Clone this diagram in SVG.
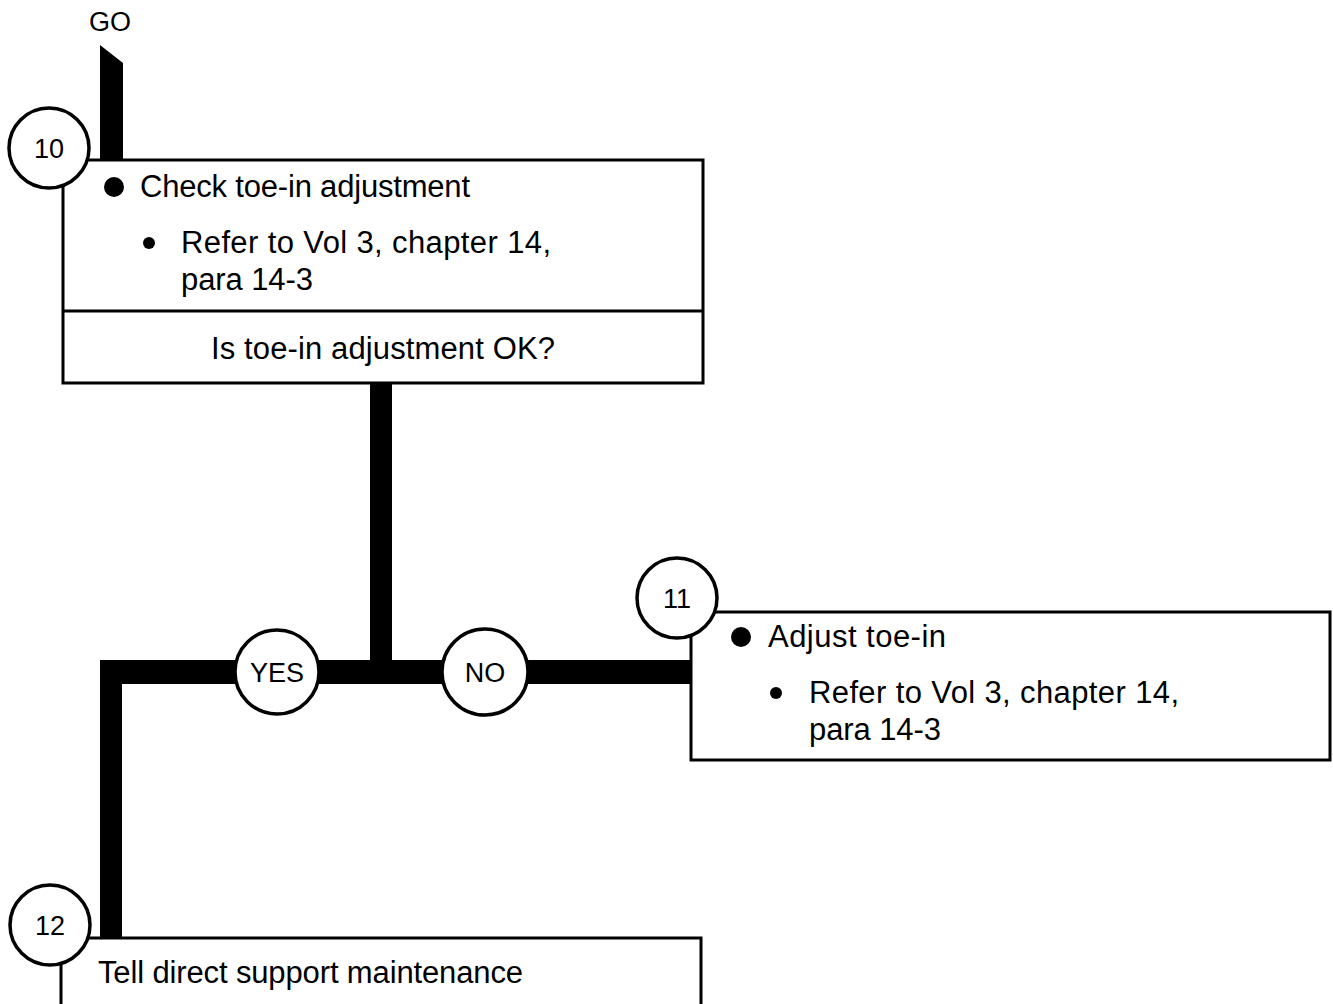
<svg xmlns="http://www.w3.org/2000/svg" width="1333" height="1004" viewBox="0 0 1333 1004">
<style>
.box{fill:#fff;stroke:#000;stroke-width:3}
.circ{fill:#fff;stroke:#000;stroke-width:3.5}
.t{font-family:"Liberation Sans",Arial,sans-serif;fill:#000}
.lg{font-size:31px}
.sm{font-size:27px}
.c{text-anchor:middle}
</style>
<rect width="1333" height="1004" fill="#fff"/>
<g id="connectors" fill="#000">
<polygon points="100,45 123,63 123,162 100,162"/>
<rect x="370" y="382" width="22" height="290"/>
<rect x="100" y="660" width="592" height="24"/>
<rect x="100" y="660" width="22" height="280"/>
</g>
<text class="t c" x="110" y="31" font-size="27">GO</text>
<g id="node10">
<rect class="box" x="63" y="160" width="640" height="223"/>
<line x1="63" y1="311" x2="703" y2="311" stroke="#000" stroke-width="3"/>
<circle class="circ" cx="49" cy="148" r="40"/>
<text class="t c sm" x="49" y="158">10</text>
<circle cx="114" cy="187" r="10"/>
<text class="t lg" x="140" y="197" textLength="330" lengthAdjust="spacing">Check toe-in adjustment</text>
<circle cx="149" cy="243" r="6"/>
<text class="t lg" x="181" y="253" textLength="370" lengthAdjust="spacing">Refer to Vol 3, chapter 14,</text>
<text class="t lg" x="181" y="290" textLength="132" lengthAdjust="spacing">para 14-3</text>
<text class="t lg c" x="383" y="359" textLength="344" lengthAdjust="spacing">Is toe-in adjustment OK?</text>
</g>
<g id="yes">
<circle class="circ" cx="277" cy="672" r="42"/>
<text class="t c sm" x="277" y="682">YES</text>
</g>
<g id="no">
<circle class="circ" cx="485" cy="672" r="43"/>
<text class="t c sm" x="485" y="682">NO</text>
</g>
<g id="node11">
<rect class="box" x="691" y="612" width="639" height="148"/>
<circle class="circ" cx="677" cy="598" r="40"/>
<text class="t c sm" x="677" y="608">11</text>
<circle cx="741" cy="637" r="10"/>
<text class="t lg" x="768" y="647" textLength="178" lengthAdjust="spacing">Adjust toe-in</text>
<circle cx="776" cy="693" r="6"/>
<text class="t lg" x="809" y="703" textLength="370" lengthAdjust="spacing">Refer to Vol 3, chapter 14,</text>
<text class="t lg" x="809" y="740" textLength="132" lengthAdjust="spacing">para 14-3</text>
</g>
<g id="node12">
<rect class="box" x="61" y="938" width="640" height="80"/>
<circle class="circ" cx="50" cy="925" r="40"/>
<text class="t c sm" x="50" y="935">12</text>
<text class="t lg" x="98" y="983" textLength="425" lengthAdjust="spacing">Tell direct support maintenance</text>
</g>
</svg>
